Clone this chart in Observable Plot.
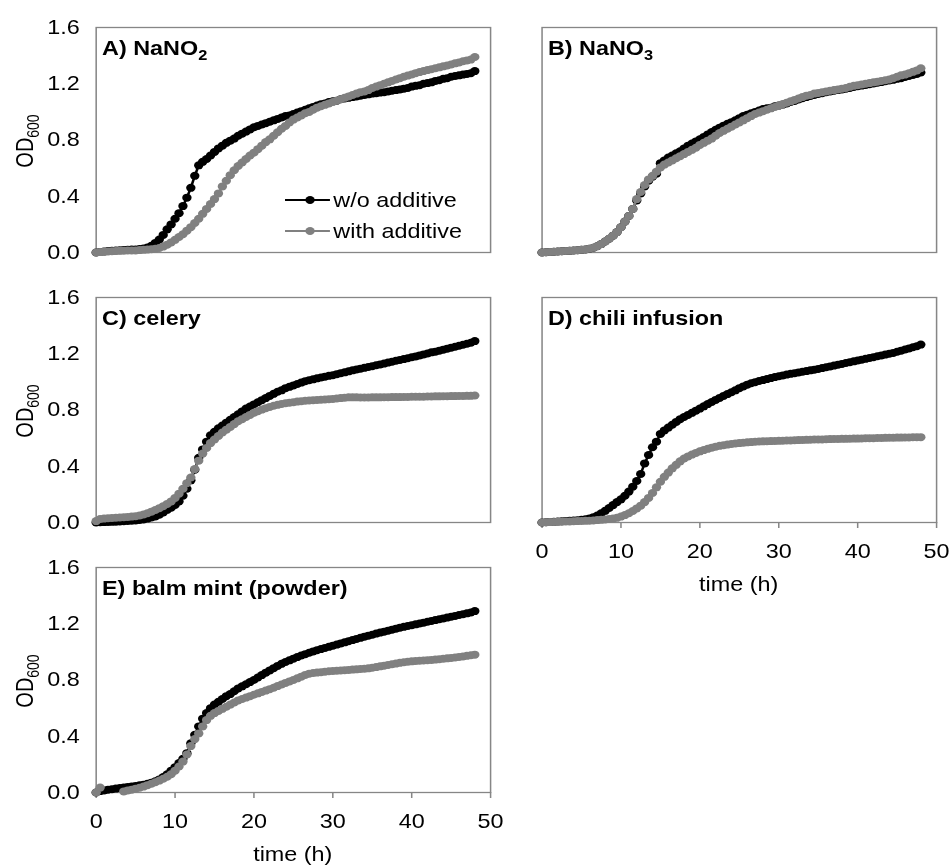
<!DOCTYPE html>
<html>
<head>
<meta charset="utf-8">
<script src="https://cdn.jsdelivr.net/npm/d3@7"></script>
<script src="https://cdn.jsdelivr.net/npm/@observablehq/plot@0.6"></script>
<style>
  html, body { margin: 0; background: #fff; }
  #fig {
    position: relative; width: 812px; height: 866px;
    transform: scaleX(1.17); transform-origin: 0 0;
    font-family: "Liberation Sans", Arial, sans-serif; color: #000;
  }
  .panel { position: absolute; }
  .panel svg { overflow: visible; }
  .panel g[aria-label="x-axis"] line,
  .panel g[aria-label="x-axis tick"] path,
  .panel g[aria-label="x-axis tick"] { stroke: #868686; stroke-width: 1.3; }
  #notes { position: absolute; left: 0; top: 0; overflow: visible; pointer-events: none; }
</style>
</head>
<body>
<div id="fig"></div>
<script>
// Sampling times (h), one reading every half hour
const hours = [0,0.5,1,1.5,2,2.5,3,3.5,4,4.5,5,5.5,6,6.5,7,7.5,8,8.5,9,9.5,
  10,10.5,11,11.5,12,12.5,13,13.5,14,14.5,15,15.5,16,16.5,17,17.5,18,18.5,19,19.5,
  20,20.5,21,21.5,22,22.5,23,23.5,24,24.5,25,25.5,26,26.5,27,27.5,28,28.5,29,29.5,
  30,30.5,31,31.5,32,32.5,33,33.5,34,34.5,35,35.5,36,36.5,37,37.5,38,38.5,39,39.5,
  40,40.5,41,41.5,42,42.5,43,43.5,44,44.5,45,45.5,46,46.5,47,47.5,48];

// OD600 readings, w/o additive (control) and with additive, per experiment
const nitriteCtrl = [0,0.004,0.007,0.010,0.012,0.014,0.016,0.018,0.020,0.021,
  0.022,0.025,0.028,0.035,0.048,0.068,0.092,0.125,0.165,0.2,
  0.24,0.28,0.33,0.39,0.46,0.545,0.62,0.645,0.665,0.69,
  0.715,0.74,0.76,0.78,0.795,0.81,0.83,0.845,0.86,0.875,
  0.89,0.90,0.91,0.92,0.93,0.94,0.95,0.96,0.97,0.975,
  0.985,0.995,1.005,1.015,1.025,1.035,1.045,1.055,1.06,1.07,
  1.075,1.08,1.09,1.095,1.10,1.105,1.11,1.115,1.12,1.125,
  1.13,1.133,1.137,1.14,1.145,1.15,1.155,1.16,1.165,1.17,
  1.18,1.185,1.19,1.20,1.205,1.21,1.22,1.225,1.235,1.24,
  1.25,1.255,1.26,1.265,1.27,1.275,1.29];
const nitriteAdd = [0,0.003,0.005,0.007,0.009,0.011,0.012,0.013,0.014,0.015,
  0.015,0.017,0.019,0.021,0.023,0.026,0.032,0.042,0.056,0.072,
  0.09,0.11,0.13,0.155,0.18,0.21,0.24,0.275,0.31,0.345,
  0.38,0.42,0.47,0.51,0.55,0.585,0.615,0.64,0.665,0.69,
  0.71,0.735,0.76,0.785,0.805,0.83,0.855,0.88,0.90,0.925,
  0.945,0.96,0.975,0.99,1.0,1.015,1.03,1.04,1.05,1.06,
  1.07,1.08,1.09,1.10,1.11,1.12,1.13,1.14,1.145,1.155,
  1.17,1.18,1.19,1.20,1.21,1.22,1.23,1.24,1.25,1.258,
  1.266,1.275,1.283,1.29,1.297,1.304,1.31,1.317,1.324,1.33,
  1.337,1.345,1.352,1.36,1.366,1.372,1.39];

const nitrateCtrl = [0,0.002,0.004,0.006,0.008,0.009,0.011,0.012,0.014,0.016,
  0.019,0.022,0.027,0.034,0.045,0.06,0.078,0.098,0.12,0.145,
  0.18,0.22,0.26,0.31,0.37,0.42,0.47,0.51,0.54,0.56,
  0.635,0.655,0.675,0.69,0.705,0.72,0.74,0.76,0.775,0.79,
  0.805,0.822,0.84,0.857,0.873,0.888,0.902,0.915,0.927,0.94,
  0.955,0.97,0.98,0.99,1.0,1.01,1.02,1.025,1.03,1.04,
  1.045,1.052,1.06,1.07,1.078,1.088,1.097,1.105,1.113,1.12,
  1.127,1.133,1.14,1.145,1.15,1.155,1.16,1.165,1.17,1.177,
  1.182,1.187,1.192,1.197,1.202,1.207,1.212,1.218,1.223,1.228,
  1.235,1.24,1.248,1.255,1.262,1.27,1.28];
const nitrateAdd = [0,0.002,0.004,0.006,0.008,0.009,0.011,0.012,0.014,0.016,
  0.019,0.022,0.027,0.034,0.045,0.06,0.078,0.098,0.12,0.145,
  0.18,0.22,0.26,0.31,0.38,0.43,0.48,0.52,0.545,0.575,
  0.605,0.625,0.64,0.655,0.67,0.685,0.70,0.715,0.73,0.745,
  0.765,0.78,0.795,0.81,0.83,0.85,0.865,0.88,0.895,0.91,
  0.925,0.94,0.955,0.97,0.985,0.995,1.005,1.015,1.025,1.035,
  1.045,1.055,1.065,1.075,1.085,1.095,1.105,1.115,1.12,1.13,
  1.135,1.14,1.145,1.15,1.155,1.16,1.165,1.17,1.178,1.185,
  1.19,1.195,1.20,1.205,1.21,1.215,1.22,1.225,1.23,1.24,
  1.25,1.26,1.265,1.275,1.285,1.295,1.31];

const celeryCtrl = [0,0.002,0.003,0.004,0.005,0.006,0.008,0.009,0.011,0.013,
  0.015,0.018,0.022,0.028,0.036,0.043,0.056,0.072,0.09,0.105,
  0.125,0.15,0.19,0.24,0.30,0.375,0.46,0.52,0.575,0.62,
  0.645,0.67,0.69,0.71,0.73,0.75,0.77,0.79,0.81,0.825,
  0.84,0.855,0.87,0.885,0.90,0.915,0.93,0.94,0.955,0.965,
  0.975,0.985,0.995,1.005,1.012,1.018,1.025,1.031,1.037,1.043,
  1.048,1.055,1.062,1.068,1.075,1.082,1.088,1.094,1.10,1.106,
  1.112,1.118,1.124,1.13,1.137,1.143,1.15,1.156,1.162,1.168,
  1.175,1.181,1.188,1.195,1.202,1.21,1.215,1.222,1.229,1.236,
  1.243,1.25,1.257,1.264,1.271,1.278,1.29];
const celeryAdd = [0.01,0.025,0.028,0.03,0.032,0.034,0.036,0.038,0.04,0.042,
  0.045,0.05,0.057,0.066,0.077,0.089,0.102,0.116,0.132,0.15,
  0.175,0.205,0.24,0.28,0.32,0.38,0.44,0.49,0.53,0.565,
  0.59,0.615,0.64,0.66,0.68,0.70,0.72,0.735,0.75,0.765,
  0.78,0.792,0.803,0.813,0.822,0.83,0.837,0.843,0.848,0.852,
  0.856,0.86,0.863,0.866,0.868,0.87,0.871,0.873,0.875,0.877,
  0.879,0.882,0.885,0.888,0.89,0.89,0.89,0.889,0.889,0.889,
  0.89,0.89,0.89,0.891,0.891,0.892,0.892,0.892,0.893,0.893,
  0.894,0.894,0.895,0.895,0.896,0.896,0.897,0.897,0.898,0.898,
  0.899,0.899,0.9,0.9,0.901,0.901,0.903];

const chiliCtrl = [0,0.002,0.004,0.005,0.007,0.009,0.01,0.012,0.014,0.016,
  0.019,0.023,0.029,0.038,0.05,0.065,0.083,0.103,0.124,0.145,
  0.165,0.19,0.22,0.255,0.295,0.345,0.42,0.48,0.535,0.575,
  0.63,0.655,0.675,0.695,0.715,0.735,0.75,0.765,0.78,0.795,
  0.81,0.826,0.842,0.857,0.872,0.886,0.9,0.913,0.926,0.94,
  0.955,0.968,0.98,0.99,0.998,1.006,1.013,1.02,1.027,1.034,
  1.04,1.046,1.052,1.057,1.062,1.067,1.072,1.077,1.082,1.087,
  1.092,1.098,1.104,1.11,1.116,1.122,1.128,1.134,1.14,1.146,
  1.152,1.158,1.164,1.17,1.176,1.182,1.188,1.194,1.2,1.206,
  1.214,1.222,1.23,1.238,1.246,1.254,1.265];
const chiliAdd = [0,0.002,0.003,0.004,0.005,0.006,0.007,0.008,0.009,0.01,
  0.011,0.012,0.013,0.015,0.017,0.019,0.022,0.025,0.028,0.033,
  0.042,0.053,0.066,0.082,0.1,0.12,0.145,0.175,0.21,0.25,
  0.29,0.325,0.355,0.385,0.41,0.435,0.455,0.47,0.483,0.495,
  0.506,0.515,0.524,0.532,0.539,0.545,0.55,0.554,0.558,0.562,
  0.565,0.568,0.57,0.572,0.574,0.576,0.577,0.578,0.579,0.58,
  0.581,0.582,0.583,0.584,0.585,0.586,0.587,0.588,0.589,0.59,
  0.59,0.591,0.592,0.593,0.594,0.594,0.595,0.595,0.596,0.597,
  0.597,0.598,0.599,0.6,0.6,0.601,0.601,0.602,0.603,0.603,
  0.604,0.604,0.605,0.605,0.606,0.606,0.607];

const balmCtrl = [0,0.01,0.015,0.02,0.024,0.028,0.032,0.036,0.04,0.043,
  0.047,0.051,0.056,0.062,0.07,0.08,0.093,0.11,0.13,0.155,
  0.18,0.21,0.24,0.28,0.35,0.41,0.47,0.525,0.565,0.6,
  0.625,0.645,0.665,0.685,0.70,0.72,0.74,0.755,0.77,0.785,
  0.80,0.818,0.835,0.852,0.868,0.884,0.9,0.915,0.928,0.94,
  0.952,0.963,0.974,0.984,0.994,1.003,1.012,1.02,1.028,1.036,
  1.044,1.052,1.06,1.068,1.076,1.084,1.092,1.1,1.108,1.115,
  1.122,1.13,1.137,1.144,1.151,1.158,1.165,1.172,1.178,1.184,
  1.19,1.196,1.202,1.208,1.214,1.22,1.226,1.232,1.238,1.244,
  1.25,1.256,1.262,1.268,1.274,1.28,1.29];
// readings between 1 h and 3 h are missing for this series
const balmAdd = [0,0.035,null,null,null,null,null,0.008,0.015,0.02,
  0.027,0.034,0.042,0.052,0.062,0.073,0.085,0.098,0.112,0.13,
  0.155,0.185,0.22,0.27,0.33,0.38,0.42,0.47,0.515,0.545,
  0.565,0.58,0.595,0.61,0.625,0.64,0.655,0.665,0.675,0.685,
  0.695,0.705,0.715,0.725,0.735,0.745,0.757,0.768,0.779,0.79,
  0.80,0.812,0.824,0.836,0.845,0.85,0.853,0.856,0.859,0.862,
  0.864,0.866,0.868,0.87,0.872,0.874,0.876,0.878,0.88,0.883,
  0.887,0.892,0.897,0.902,0.907,0.912,0.917,0.922,0.926,0.93,
  0.933,0.935,0.937,0.939,0.941,0.943,0.945,0.948,0.951,0.954,
  0.957,0.96,0.964,0.968,0.972,0.976,0.98];

const odTicks = [0, 0.4, 0.8, 1.2, 1.6];
const timeTicks = [0, 10, 20, 30, 40, 50];
const seriesNames = ["w/o additive", "with additive"];
const seriesColors = ["#000000", "#808080"];

const FONT = '"Liberation Sans", Arial, sans-serif';
const DOT_R = 4;
const fig = document.getElementById("fig");

// Layout of the five panels (unstretched page coordinates)
const COLS = [
  {left: 0, width: 430, marginLeft: 81.7, marginRight: 11.2},
  {left: 430, width: 382, marginLeft: 32.8, marginRight: 12}
];
const panels = [
  {label: "A) ", chem: "NaNO", sub: "2", ctrl: nitriteCtrl, add: nitriteAdd, col: 0, row: 0, xAxis: false, legend: true},
  {label: "B) ", chem: "NaNO", sub: "3", ctrl: nitrateCtrl, add: nitrateAdd, col: 1, row: 0, xAxis: false},
  {label: "C) celery", ctrl: celeryCtrl, add: celeryAdd, col: 0, row: 1, xAxis: false},
  {label: "D) chili infusion", ctrl: chiliCtrl, add: chiliAdd, col: 1, row: 1, xAxis: true},
  {label: "E) balm mint (powder)", ctrl: balmCtrl, add: balmAdd, col: 0, row: 2, xAxis: true}
];

const ROW_PITCH = 270, MARGIN_TOP = 27, PLOT_H = 225;

for (const p of panels) {
  const c = COLS[p.col];
  const height = p.xAxis ? MARGIN_TOP + PLOT_H + 88 : MARGIN_TOP + PLOT_H + 18;
  const ctrl = hours.map((t, i) => ({t, od: p.ctrl[i]}));
  const add = hours.map((t, i) => ({t, od: p.add[i]}));
  const chart = Plot.plot({
    width: c.width,
    height,
    marginLeft: c.marginLeft,
    marginRight: c.marginRight,
    marginTop: MARGIN_TOP,
    marginBottom: height - MARGIN_TOP - PLOT_H,
    style: {fontFamily: FONT, fontSize: "20px", color: "#000", background: "transparent", overflow: "visible"},
    x: p.xAxis
      ? {domain: [0, 50], ticks: timeTicks, tickSize: 6, tickPadding: 15, label: null}
      : {domain: [0, 50], axis: null},
    y: p.col === 0
      ? {domain: [0, 1.6], ticks: odTicks, tickFormat: d => d.toFixed(1), tickSize: 0, tickPadding: 14, label: null}
      : {domain: [0, 1.6], axis: null},
    marks: [
      Plot.frame({stroke: "#868686", strokeWidth: 1.3}),
      Plot.line(ctrl, {x: "t", y: "od", stroke: seriesColors[0], strokeWidth: 2.2}),
      Plot.dot(ctrl, {x: "t", y: "od", r: DOT_R, fill: seriesColors[0], stroke: "none"}),
      Plot.line(add, {x: "t", y: "od", stroke: seriesColors[1], strokeWidth: 2.2}),
      Plot.dot(add, {x: "t", y: "od", r: DOT_R, fill: seriesColors[1], stroke: "none"})
    ]
  });
  const wrap = document.createElement("div");
  wrap.className = "panel";
  wrap.style.left = c.left + "px";
  wrap.style.top = (p.row * ROW_PITCH) + "px";
  wrap.appendChild(chart);
  fig.appendChild(wrap);
}

// Panel titles, axis titles and the legend
const notes = d3.select(fig).append("svg")
  .attr("id", "notes").attr("width", 812).attr("height", 866)
  .style("font-family", FONT).attr("fill", "#000");

for (const p of panels) {
  const c = COLS[p.col];
  const plotLeft = c.left + c.marginLeft;
  const plotTop = p.row * ROW_PITCH + MARGIN_TOP;
  const t = notes.append("text")
    .attr("x", plotLeft + 5.5).attr("y", plotTop + 28.5)
    .attr("font-size", 20).attr("font-weight", "bold");
  t.append("tspan").text(p.label + (p.chem || ""));
  if (p.sub) t.append("tspan").attr("font-size", 14).attr("dy", 4.5).text(p.sub);

  if (p.col === 0) {
    const yl = notes.append("text")
      .attr("transform", `translate(28.5,${plotTop + PLOT_H / 2 + 1.5}) rotate(-90)`)
      .attr("text-anchor", "middle").attr("font-size", 20);
    yl.append("tspan").text("OD");
    yl.append("tspan").attr("font-size", 14).attr("dy", 4.5).text("600");
  }
  if (p.xAxis) {
    notes.append("text")
      .attr("x", plotLeft + (c.width - c.marginLeft - c.marginRight) / 2)
      .attr("y", plotTop + PLOT_H + 69)
      .attr("text-anchor", "middle").attr("font-size", 20)
      .text("time (h)");
  }
  if (p.legend) {
    seriesNames.forEach((name, i) => {
      const cy = 200 + i * 31;
      const g = notes.append("g");
      g.append("line").attr("x1", 243.6).attr("x2", 282).attr("y1", cy).attr("y2", cy)
        .attr("stroke", seriesColors[i]).attr("stroke-width", 2.2);
      g.append("circle").attr("cx", 265).attr("cy", cy).attr("r", DOT_R).attr("fill", seriesColors[i]);
      g.append("text").attr("x", 284.9).attr("y", cy + 6.7).attr("font-size", 20).text(name);
    });
  }
}
</script>
</body>
</html>
